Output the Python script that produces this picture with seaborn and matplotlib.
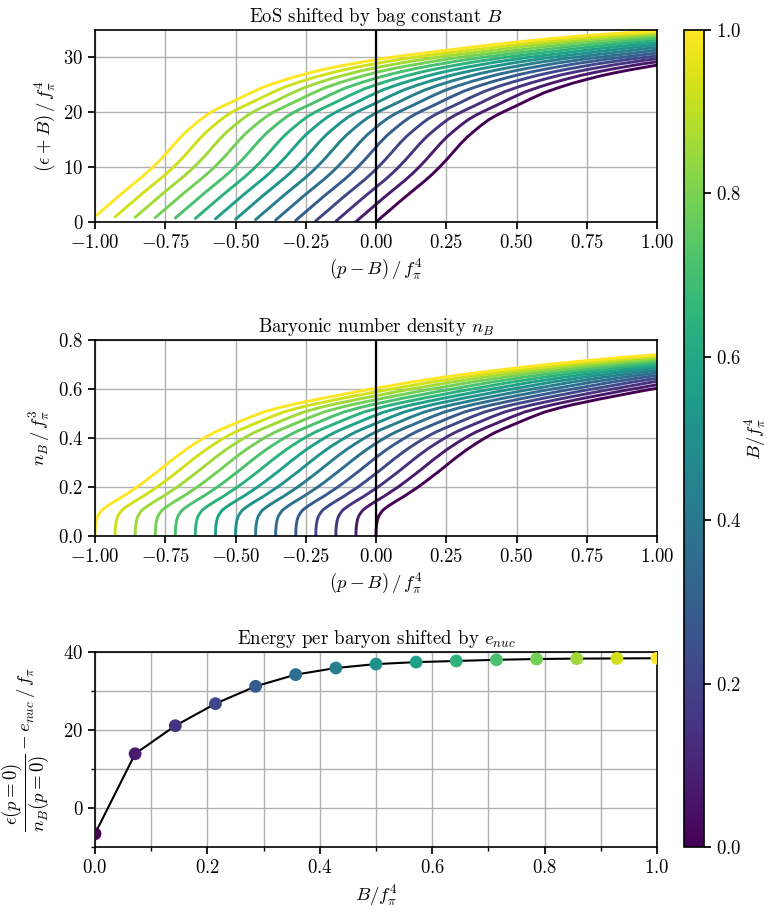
import numpy as np
import pandas as pd
import matplotlib
matplotlib.use("Agg")
import matplotlib.pyplot as plt
import seaborn as sns
from matplotlib.colors import Normalize
from matplotlib.cm import ScalarMappable
from matplotlib.ticker import MultipleLocator

# Bag constants B / f_pi^4
bag = [0.0, 0.0714, 0.1429, 0.2143, 0.2857, 0.3571, 0.4286, 0.5,
       0.5714, 0.6429, 0.7143, 0.7857, 0.8571, 0.9286, 1.0]

# Base equation of state: energy density vs pressure (units of f_pi^4)
eos_pressure = [0.000, 0.025, 0.050, 0.075, 0.100, 0.125, 0.150, 0.175, 0.200,
                0.225, 0.250, 0.275, 0.300, 0.325, 0.350, 0.375, 0.400, 0.425,
                0.450, 0.475, 0.500, 0.550, 0.600, 0.650, 0.700, 0.750, 0.800,
                0.850, 0.900, 0.950, 1.000, 1.100, 1.250, 1.375, 1.500, 1.625,
                1.750, 1.875, 2.000]
eos_energy = [0.0, 1.1, 2.2, 3.3, 4.4, 5.45, 6.5, 7.55, 8.7,
              9.95, 11.3, 12.75, 14.2, 15.5, 16.6, 17.65, 18.6, 19.35,
              20.0, 20.6, 21.2, 22.45, 23.6, 24.5, 25.3, 26.0, 26.65,
              27.2, 27.7, 28.15, 28.6, 29.35, 30.3, 31.1, 31.8, 32.45,
              33.0, 33.45, 33.8]

# Baryon number density vs pressure (units of f_pi^3)
nb_pressure = [0.0, 0.0005, 0.002, 0.005, 0.010, 0.018, 0.025, 0.035, 0.050,
               0.075, 0.100, 0.125, 0.150, 0.175, 0.200, 0.225, 0.250, 0.275,
               0.300, 0.325, 0.350, 0.375, 0.400, 0.425, 0.450, 0.475, 0.500,
               0.550, 0.600, 0.650, 0.700, 0.750, 0.800, 0.850, 0.900, 0.950,
               1.000, 1.125, 1.250, 1.375, 1.500, 1.625, 1.750, 1.875, 2.000]
nb_density = [0.0, 0.025, 0.045, 0.065, 0.082, 0.096, 0.106, 0.115, 0.127,
              0.145, 0.162, 0.181, 0.200, 0.221, 0.243, 0.265, 0.288, 0.311,
              0.333, 0.354, 0.373, 0.391, 0.408, 0.423, 0.436, 0.448, 0.460,
              0.484, 0.506, 0.522, 0.536, 0.548, 0.560, 0.571, 0.582, 0.593,
              0.603, 0.628, 0.650, 0.669, 0.686, 0.702, 0.716, 0.729, 0.740]

# Energy per baryon at zero pressure minus e_nuc (units of f_pi)
energy_per_baryon = [-6.6, 13.9, 21.1, 26.75, 31.2, 34.2, 35.9, 36.9,
                     37.4, 37.7, 38.0, 38.2, 38.3, 38.35, 38.4]

sns.set_theme(style="ticks")
plt.rcParams.update({
    "font.family": "serif",
    "font.serif": ["cmr10"],
    "mathtext.fontset": "cm",
    "axes.formatter.use_mathtext": True,
    "font.size": 13.5,
    "axes.titlesize": 13.5,
    "axes.labelsize": 13.5,
    "xtick.labelsize": 13.5,
    "ytick.labelsize": 13.5,
    "axes.edgecolor": "black",
    "axes.linewidth": 1.2,
    "xtick.color": "black",
    "ytick.color": "black",
    "axes.labelcolor": "black",
    "text.color": "black",
    "xtick.major.size": 5,
    "ytick.major.size": 5,
    "xtick.minor.size": 3,
    "ytick.minor.size": 3,
})

cmap = "viridis"
norm = Normalize(0, 1)

eos_rows = []
nb_rows = []
for b in bag:
    for p, e in zip(eos_pressure, eos_energy):
        eos_rows.append({"B": b, "x": p - b, "y": e + b})
    for p, n in zip(nb_pressure, nb_density):
        nb_rows.append({"B": b, "x": p - b, "y": n})
eos_df = pd.DataFrame(eos_rows)
nb_df = pd.DataFrame(nb_rows)
epb_df = pd.DataFrame({"B": bag, "E": energy_per_baryon})

W, H = 767, 917
fig = plt.figure(figsize=(W / 100, H / 100), dpi=100)


def box(left, top, right, bottom):
    return [left / W, 1 - bottom / H, (right - left) / W, (bottom - top) / H]


ax1 = fig.add_axes(box(95, 30, 657, 222))
ax2 = fig.add_axes(box(95, 340, 657, 536))
ax3 = fig.add_axes(box(95, 652, 657, 847))
cax = fig.add_axes(box(684, 30, 704, 847))

grid_kw = dict(color="#b0b0b0", linewidth=1.0)

for ax, df in ((ax1, eos_df), (ax2, nb_df)):
    sns.lineplot(data=df, x="x", y="y", hue="B", palette=cmap, hue_norm=norm,
                 estimator=None, sort=False, legend=False, linewidth=2.1, ax=ax)
    ax.axvline(0, color="black", linewidth=1.6, zorder=5)
    ax.set_xlim(-1, 1)
    ax.xaxis.set_major_locator(MultipleLocator(0.25))
    ax.grid(True, **grid_kw)
    ax.set_axisbelow(True)
    ax.set_xlabel(r"$(p-B)\,/\,f_\pi^4$")

ax1.set_ylim(0, 35)
ax1.yaxis.set_major_locator(MultipleLocator(10))
ax1.set_ylabel(r"$(\epsilon+B)\,/\,f_\pi^4$")
ax1.set_title(r"EoS shifted by bag constant $B$")

ax2.set_ylim(0, 0.8)
ax2.yaxis.set_major_locator(MultipleLocator(0.2))
ax2.set_ylabel(r"$n_B\,/\,f_\pi^3$")
ax2.set_title(r"Baryonic number density $n_B$")

sns.lineplot(data=epb_df, x="B", y="E", color="black", linewidth=1.5,
             estimator=None, sort=False, ax=ax3, zorder=2)
sns.scatterplot(data=epb_df, x="B", y="E", hue="B", palette=cmap, hue_norm=norm,
                s=85, linewidth=0, legend=False, ax=ax3, zorder=3)
ax3.set_xlim(0, 1)
ax3.set_ylim(-10, 40)
ax3.xaxis.set_major_locator(MultipleLocator(0.2))
ax3.xaxis.set_minor_locator(MultipleLocator(0.1))
ax3.yaxis.set_major_locator(MultipleLocator(20))
ax3.yaxis.set_minor_locator(MultipleLocator(10))
ax3.grid(True, which="both", **grid_kw)
ax3.set_axisbelow(True)
ax3.set_xlabel(r"$B/f_\pi^4$")
ax3.set_ylabel(r"$\dfrac{\epsilon(p=0)}{n_B(p=0)}-e_{nuc}\,/\,f_\pi$", labelpad=8)
ax3.set_title(r"Energy per baryon shifted by $e_{nuc}$")

cb = fig.colorbar(ScalarMappable(norm=norm, cmap=cmap), cax=cax)
cb.set_ticks([0.0, 0.2, 0.4, 0.6, 0.8, 1.0])
cb.set_label(r"$B/f_\pi^4$", labelpad=1)
cb.outline.set_linewidth(1.2)

fig.savefig("out.png", dpi=100)
